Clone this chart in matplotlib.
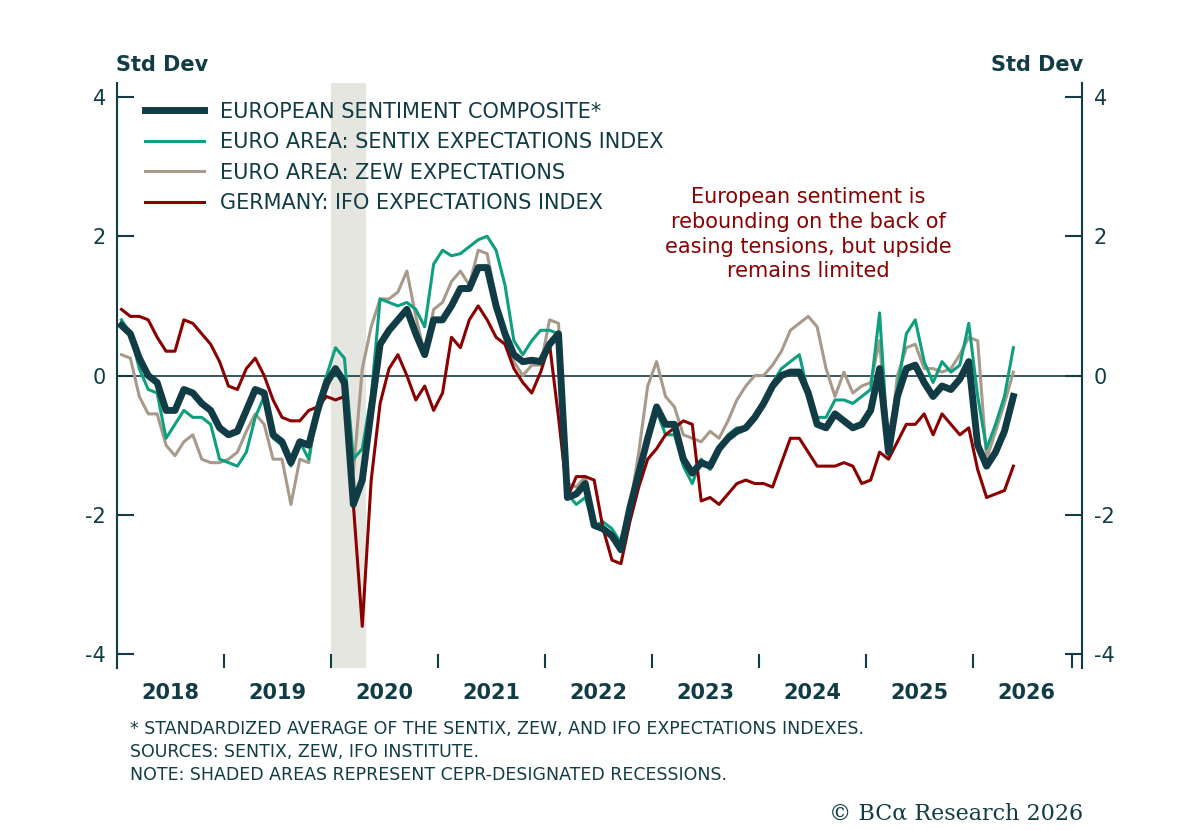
import matplotlib
matplotlib.use("Agg")
import matplotlib.pyplot as plt
import numpy as np

composite = [.72,.6,.25,0,-.1,-.5,-.5,-.2,-.25,-.4,-.5,-.75,
 -.85,-.8,-.5,-.2,-.25,-.85,-.95,-1.25,-.95,-1.0,-.5,-.1,
 .1,-.1,-1.85,-1.5,-.5,.45,.65,.8,.95,.6,.3,.8,
 .8,1.0,1.25,1.25,1.55,1.55,1.0,.6,.3,.2,.22,.2,
 .45,.6,-1.75,-1.7,-1.55,-2.15,-2.2,-2.3,-2.5,-1.9,-1.4,-.9,
 -.45,-.7,-.7,-1.2,-1.4,-1.25,-1.3,-1.05,-.9,-.8,-.75,-.6,
 -.4,-.15,.0,.05,.05,-.25,-.7,-.75,-.55,-.65,-.75,-.7,
 -.5,.1,-1.1,-.3,.1,.15,-.1,-.3,-.15,-.2,-.05,.2,
 -1.0,-1.3,-1.1,-.8,-.3]
sentix = [.8,.6,.1,-.2,-.25,-.9,-.7,-.5,-.6,-.6,-.7,-1.2,
 -1.25,-1.3,-1.1,-.6,-.3,-.9,-1.0,-1.3,-.95,-1.2,-.4,.0,
 .4,.25,-1.2,-1.05,-.3,1.1,1.05,1.0,1.05,.95,.7,1.6,
 1.8,1.72,1.75,1.85,1.95,2.0,1.8,1.3,.5,.3,.5,.65,
 .65,.6,-1.7,-1.85,-1.75,-2.15,-2.1,-2.2,-2.4,-1.9,-1.3,-.9,
 -.5,-.85,-.85,-1.3,-1.55,-1.2,-1.35,-1.1,-.85,-.75,-.75,-.6,
 -.4,-.1,.1,.2,.3,-.25,-.6,-.6,-.35,-.35,-.4,-.3,
 -.2,.9,-1.1,-.2,.6,.8,.2,-.1,.2,.05,.15,.75,
 -.3,-1.05,-.7,-.3,.4]
zew = [.3,.25,-.3,-.55,-.55,-1.0,-1.15,-.95,-.85,-1.2,-1.25,-1.25,
 -1.2,-1.1,-.8,-.55,-.7,-1.2,-1.2,-1.85,-1.2,-1.25,-.4,-.2,
 .1,-.2,-1.4,.1,.7,1.1,1.1,1.2,1.5,.85,.3,.95,
 1.05,1.35,1.5,1.3,1.8,1.75,1.1,.5,.2,.0,.15,.15,
 .8,.75,-1.55,-1.6,-1.45,-2.15,-2.2,-2.35,-2.35,-1.9,-1.1,-.15,
 .2,-.3,-.45,-.85,-.9,-.95,-.8,-.9,-.65,-.35,-.15,.0,
 .0,.15,.35,.65,.75,.85,.7,.1,-.3,.05,-.25,-.15,
 -.1,.5,-1.15,.0,.4,.45,.1,.1,.05,.1,.3,.55,
 .5,-1.2,-.8,-.4,.05]
ifo = [.95,.85,.85,.8,.55,.35,.35,.8,.75,.6,.45,.2,
 -.15,-.2,.1,.25,.0,-.35,-.6,-.65,-.65,-.5,-.45,-.3,
 -.35,-.3,-1.85,-3.6,-1.5,-.4,.1,.3,.0,-.35,-.15,-.5,
 -.25,.55,.4,.8,1.0,.8,.55,.45,.1,-.1,-.25,.05,
 .45,-.6,-1.75,-1.45,-1.45,-1.5,-2.2,-2.65,-2.7,-2.1,-1.6,-1.2,
 -1.05,-.85,-.75,-.65,-.7,-1.8,-1.75,-1.85,-1.7,-1.55,-1.5,-1.55,
 -1.55,-1.6,-1.25,-.9,-.9,-1.1,-1.3,-1.3,-1.3,-1.25,-1.3,-1.55,
 -1.5,-1.1,-1.2,-.95,-.7,-.7,-.55,-.85,-.55,-.7,-.85,-.75,
 -1.35,-1.75,-1.7,-1.65,-1.3]
years = list(range(2018, 2027))
recession = (2020.0, 2020.33)

DARK = "#123c45"; GREEN = "#0e9f7e"; TAN = "#a89a8a"; RED = "#8b0000"

fig = plt.figure(figsize=(12, 8.3), dpi=100)
ax = fig.add_axes([0.0975, 0.195, 0.8045, 0.705])
def xs(v): return 2018 + (np.arange(len(v)) + 0.5) / 12.0
ax.axvspan(*recession, color="#e6e6e0", zorder=0, lw=0)
ax.axhline(0, color=DARK, lw=1.2, zorder=1)
ax.plot(xs(sentix), sentix, color=GREEN, lw=2.2, label="EURO AREA: SENTIX EXPECTATIONS INDEX", zorder=3)
ax.plot(xs(zew), zew, color=TAN, lw=2.2, label="EURO AREA: ZEW EXPECTATIONS", zorder=2)
ax.plot(xs(ifo), ifo, color=RED, lw=2.2, label="GERMANY: IFO EXPECTATIONS INDEX", zorder=4)
ax.plot(xs(composite), composite, color=DARK, lw=5, label="EUROPEAN SENTIMENT COMPOSITE*", zorder=5)

ax.set_xlim(2018.0, 2027.02)
ax.set_ylim(-4.2, 4.2)
for s in ["top", "bottom"]:
    ax.spines[s].set_visible(False)
for s in ["left", "right"]:
    ax.spines[s].set_color(DARK); ax.spines[s].set_linewidth(1.5)
ax.set_yticks([-4, -2, 0, 2, 4])
ax.set_yticklabels(["-4", "-2", "0", "2", "4"])
ax.tick_params(axis="y", direction="in", length=12, width=1.5, color=DARK, labelsize=15,
               labelcolor=DARK, right=True, labelright=True, pad=8)
ax.set_xticks(years[1:] + [2026.92])
ax.set_xticklabels([])
ax.tick_params(axis="x", direction="in", length=10, width=1.5, color=DARK)
for y in years:
    ax.text(y + 0.5, -0.043, str(y), transform=ax.get_xaxis_transform(), ha="center", va="center",
            fontsize=15, fontweight="bold", color=DARK)

h, l = ax.get_legend_handles_labels()
order = [3, 0, 1, 2]
leg = ax.legend([h[i] for i in order], [l[i] for i in order], loc="upper left", frameon=False,
                fontsize=15, handlelength=2.8, labelspacing=0.5, bbox_to_anchor=(0.01, 1.0))
for t in leg.get_texts():
    t.set_color(DARK)

ax.text(2024.46, 2.03, "European sentiment is\nrebounding on the back of\neasing tensions, but upside\nremains limited",
        ha="center", va="center", color=RED, fontsize=15, linespacing=1.3)

fig.text(0.097, 0.915, "Std Dev", fontsize=15, fontweight="bold", color=DARK, ha="left")
fig.text(0.903, 0.915, "Std Dev", fontsize=15, fontweight="bold", color=DARK, ha="right")
fig.text(0.108, 0.094, "* STANDARDIZED AVERAGE OF THE SENTIX, ZEW, AND IFO EXPECTATIONS INDEXES.\n"
         "SOURCES: SENTIX, ZEW, IFO INSTITUTE.\nNOTE: SHADED AREAS REPRESENT CEPR-DESIGNATED RECESSIONS.",
         fontsize=12.5, color=DARK, va="center", linespacing=1.35)
fig.text(0.903, 0.013, "© BCα Research 2026", fontsize=16, family="DejaVu Serif", color=DARK, ha="right")
fig.savefig("out.png", dpi=100, facecolor="white")
